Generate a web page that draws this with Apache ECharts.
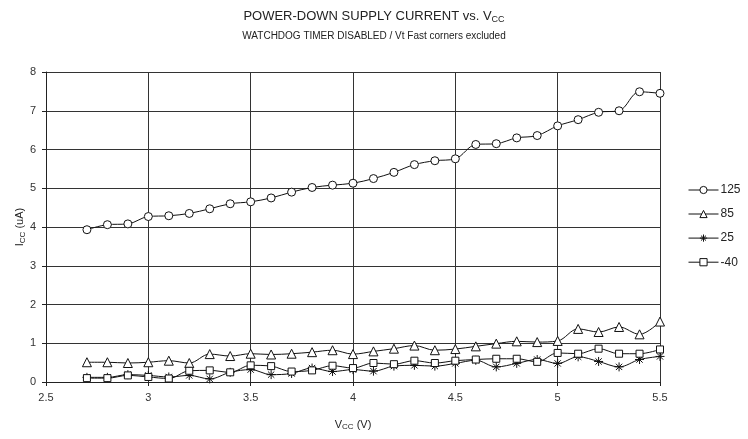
<!DOCTYPE html>
<html>
<head>
<meta charset="utf-8">
<script src="https://cdn.jsdelivr.net/npm/echarts@6/dist/echarts.min.js"></script>
<style>html,body{margin:0;padding:0;background:#fff}#c{width:748px;height:439px}</style>
</head>
<body>
<div id="c"></div>
<script>
const vcc = [2.7,2.8,2.9,3.0,3.1,3.2,3.3,3.4,3.5,3.6,3.7,3.8,3.9,4.0,4.1,4.2,4.3,4.4,4.5,4.6,4.7,4.8,4.9,5.0,5.1,5.2,5.3,5.4,5.5];
const s125 = [3.93,4.06,4.08,4.27,4.29,4.35,4.47,4.60,4.65,4.75,4.90,5.02,5.08,5.13,5.25,5.41,5.61,5.71,5.76,6.13,6.15,6.30,6.36,6.61,6.77,6.96,7.00,7.49,7.45];
const s85 = [0.51,0.51,0.49,0.51,0.55,0.49,0.72,0.67,0.73,0.71,0.73,0.77,0.82,0.72,0.79,0.86,0.94,0.82,0.85,0.92,0.99,1.05,1.03,1.06,1.37,1.29,1.42,1.23,1.56];
const s25 = [0.12,0.12,0.19,0.17,0.13,0.17,0.08,0.25,0.32,0.19,0.22,0.36,0.27,0.32,0.28,0.41,0.43,0.41,0.48,0.56,0.39,0.48,0.58,0.48,0.65,0.53,0.39,0.58,0.66];
const sm40 = [0.10,0.10,0.17,0.13,0.09,0.29,0.30,0.25,0.43,0.41,0.27,0.30,0.42,0.36,0.49,0.46,0.55,0.49,0.55,0.58,0.60,0.60,0.52,0.75,0.73,0.86,0.73,0.73,0.84];
const seriesNames = ['125','85','25','-40'];

const pair = arr => vcc.map((x,i)=>[x,arr[i]]);
const font = 'Liberation Sans, Arial, sans-serif';
const star = 'path://M0 5L10 5M5 0L5 10M1.5 1.5L8.5 8.5M8.5 1.5L1.5 8.5';
function mk(name, data, symbol, size){
  return {
    name, type:'line', data: pair(data), smooth:0.35,
    symbol, symbolSize:size, showSymbol:true,
    lineStyle:{color:'#111', width:1},
    itemStyle:{color:'#fff', borderColor:'#111', borderWidth:1},
    emphasis:{disabled:true}
  };
}
const starSeries = mk('25', s25, star, 9);
starSeries.itemStyle = {color:'none', borderColor:'#111', borderWidth:1};

const chart = echarts.init(document.getElementById('c'));
chart.setOption({
  animation:false,
  backgroundColor:'#fff',
  title:{
    left:'center', top:4, itemGap:8,
    text:'POWER-DOWN SUPPLY CURRENT vs. V{s|CC}',
    subtext:'WATCHDOG TIMER DISABLED / Vt Fast corners excluded',
    textStyle:{fontFamily:font, fontSize:13, fontWeight:'normal', color:'#222',
      rich:{s:{fontFamily:font, fontSize:9, color:'#222', padding:[6,0,0,0]}}},
    subtextStyle:{fontFamily:font, fontSize:10, color:'#222'}
  },
  grid:{left:46, right:88, top:72, bottom:57},
  legend:{
    orient:'vertical', left:683, top:179, itemWidth:30, itemHeight:9, itemGap:12,
    data:seriesNames,
    lineStyle:{width:1, color:'#111'},
    itemStyle:{borderWidth:1, borderColor:'#111'},
    textStyle:{fontFamily:font, fontSize:12, color:'#222', padding:[0,0,0,-3]}
  },
  graphic:[{
    type:'text', x:20, y:227, rotation:Math.PI/2,
    style:{
      text:'I{s|CC} (uA)', align:'center', verticalAlign:'middle',
      fontFamily:font, fontSize:11, fill:'#222',
      rich:{s:{fontFamily:font, fontSize:8, fill:'#222', padding:[5,0,0,0]}}
    }
  }],
  xAxis:{
    type:'value', min:2.5, max:5.5, interval:0.5,
    name:'V{s|CC} (V)', nameLocation:'middle', nameGap:36,
    nameTextStyle:{fontFamily:font, fontSize:11, color:'#222', rich:{s:{fontFamily:font, fontSize:8, color:'#222', padding:[5,0,0,0]}}},
    axisLine:{lineStyle:{color:'#222', width:1}},
    axisTick:{show:true, length:4, lineStyle:{color:'#222'}},
    axisLabel:{fontFamily:font, fontSize:11, color:'#333', margin:10},
    splitLine:{show:true, lineStyle:{color:'#333', width:1}}
  },
  yAxis:{
    type:'value', min:0, max:8, interval:1,
    axisLine:{show:true, lineStyle:{color:'#222', width:1}},
    axisTick:{show:true, length:4, lineStyle:{color:'#222'}},
    axisLabel:{fontFamily:font, fontSize:11, color:'#333', margin:10},
    splitLine:{show:true, lineStyle:{color:'#333', width:1}}
  },
  series:[
    mk('125', s125, 'circle', 8),
    mk('85', s85, 'triangle', 9),
    starSeries,
    mk('-40', sm40, 'rect', 7)
  ]
});
</script>
</body>
</html>
